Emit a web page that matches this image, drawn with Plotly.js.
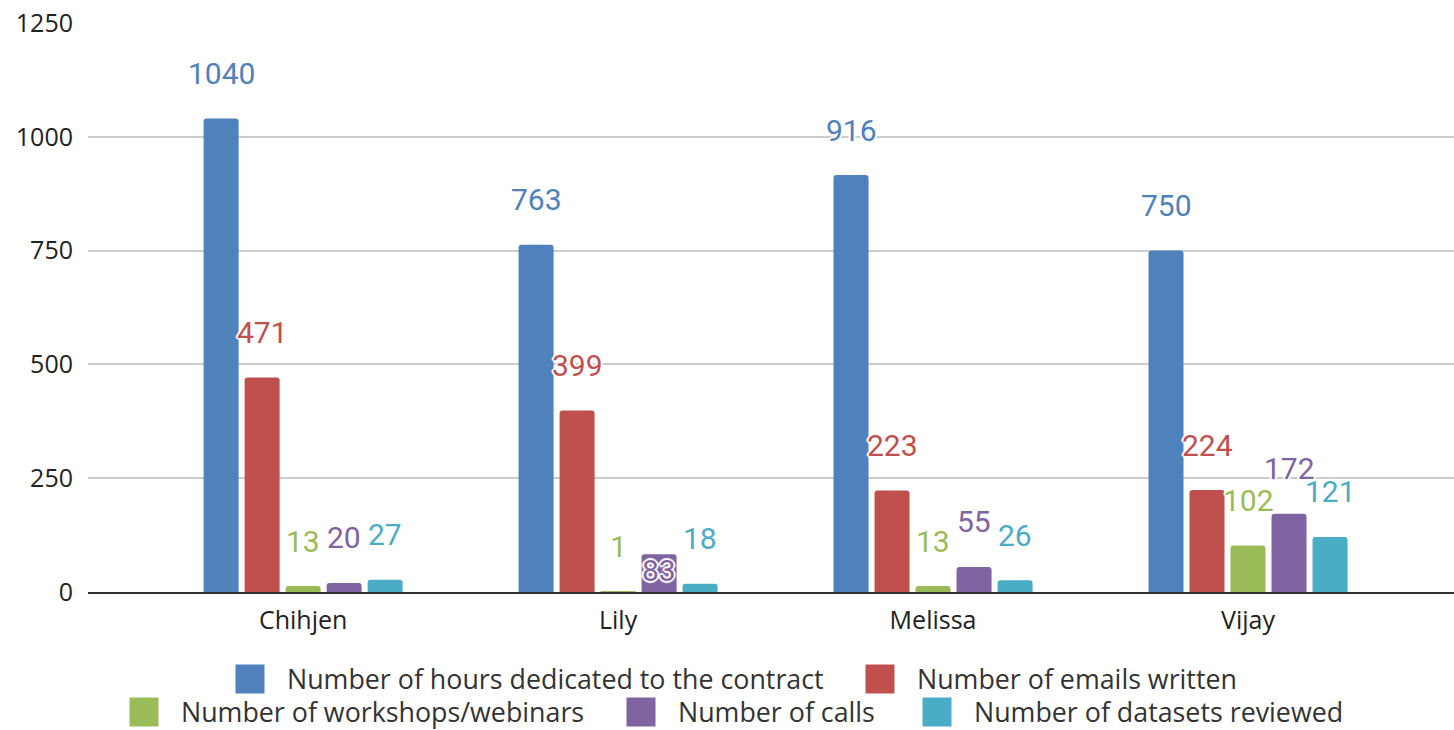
<!DOCTYPE html>
<html>
<head>
<meta charset="utf-8">
<script src="https://cdn.plot.ly/plotly-3.0.1.min.js"></script>
<style>
  html, body { margin: 0; padding: 0; background: #ffffff; }
  #chart { width: 1454px; height: 730px; }
</style>
</head>
<body>
<div id="chart"></div>
<script>
// ---- data ----
const categories = ["Chihjen", "Lily", "Melissa", "Vijay"];
const seriesNames = [
  "Number of hours dedicated to the contract",
  "Number of emails written",
  "Number of workshops/webinars",
  "Number of calls",
  "Number of datasets reviewed"
];
const hoursValues = [1040, 763, 916, 750];
const emailsValues = [471, 399, 223, 224];
const workshopsValues = [13, 1, 13, 102];
const callsValues = [20, 83, 55, 172];
const datasetsValues = [27, 18, 26, 121];
const yTickValues = [0, 250, 500, 750, 1000, 1250];

// ---- styling ----
const seriesValues = [hoursValues, emailsValues, workshopsValues, callsValues, datasetsValues];
const colors = ["#4F81BD", "#C0504D", "#9BBB59", "#8064A2", "#4BACC6"];
// legend entry placement (container pixels): swatch centre x, row centre y
const legendSwatchX = [250, 880, 144, 641, 937];
const legendRowY = [679, 679, 712, 712, 712];
const legendItemWidth = 64;
const swatchSize = 29;
const bargap = 0.349;
const labelShift = 45;
const labelShiftOverride = { "1|3": -16 }; // category index | series index
const halo = "2px 0px 1px #fff, -2px 0px 1px #fff, 0px 2px 1px #fff, 0px -2px 1px #fff, 1px 1px 1px #fff, -1px -1px 1px #fff, 1px -1px 1px #fff, -1px 1px 1px #fff";

const W = 1454, H = 730;
const M = { l: 88, r: 0, t: 23, b: 138 };
const plotW = W - M.l - M.r, plotH = H - M.t - M.b;
const legendIds = seriesNames.map((_, k) => (k === 0 ? "legend" : "legend" + (k + 1)));

const traces = seriesValues.map((vals, k) => ({
  type: "bar",
  name: seriesNames[k],
  x: categories,
  y: vals,
  marker: { color: colors[k], line: { width: 0 } },
  legend: legendIds[k],
  hoverinfo: "x+y+name"
}));

const nSeries = seriesValues.length;
const slot = (1 - bargap) / nSeries;
const annotations = [];
seriesValues.forEach((vals, k) => {
  vals.forEach((v, i) => {
    const key = i + "|" + k;
    annotations.push({
      xref: "x", yref: "y",
      x: i + (k - (nSeries - 1) / 2) * slot,
      y: v,
      text: String(v),
      showarrow: false,
      xanchor: "center", yanchor: "middle",
      yshift: key in labelShiftOverride ? labelShiftOverride[key] : labelShift,
      font: { family: "Roboto, sans-serif", size: 30, color: colors[k], shadow: halo }
    });
  });
});

// enlarged legend swatches drawn behind the legend symbols
const shapes = legendIds.map((_, k) => {
  const cx = legendSwatchX[k], cy = legendRowY[k], h = swatchSize / 2;
  return {
    type: "rect", xref: "paper", yref: "paper", layer: "below",
    x0: (cx - h - M.l) / plotW, x1: (cx + h - M.l) / plotW,
    y0: (H - M.b - (cy + h)) / plotH, y1: (H - M.b - (cy - h)) / plotH,
    fillcolor: colors[k], line: { width: 0 }
  };
});

const legendFont = { family: "Open Sans, sans-serif", size: 26.8, color: "#333333" };

const layout = {
  width: W, height: H,
  margin: M,
  paper_bgcolor: "#ffffff", plot_bgcolor: "#ffffff",
  barmode: "group",
  bargap: bargap,
  bargroupgap: 0.146,
  barcornerradius: 3,
  showlegend: true,
  xaxis: {
    type: "category",
    range: [-0.683, 3.654],
    showgrid: false,
    showline: true, linecolor: "#333333", linewidth: 2,
    ticks: "", ticklabelstandoff: 5,
    tickfont: { family: "Open Sans, sans-serif", size: 25, color: "#222222" },
    automargin: false,
    fixedrange: true
  },
  yaxis: {
    range: [0, 1250],
    tickvals: yTickValues,
    ticktext: yTickValues.map(String),
    showgrid: true, gridcolor: "#cccccc", gridwidth: 1.5,
    zeroline: false, showline: false,
    ticks: "", ticklabelstandoff: 14,
    tickfont: { family: "Open Sans, sans-serif", size: 25, color: "#222222" },
    automargin: false,
    fixedrange: true
  },
  shapes: shapes,
  annotations: annotations
};

legendIds.forEach((id, k) => {
  layout[id] = {
    orientation: "h", xref: "container", yref: "container",
    x: (legendSwatchX[k] - (legendItemWidth / 2 + 5)) / W, xanchor: "left",
    y: 1 - legendRowY[k] / H, yanchor: "middle",
    itemwidth: legendItemWidth,
    font: legendFont,
    itemclick: false, itemdoubleclick: false,
    bgcolor: "rgba(0,0,0,0)", borderwidth: 0
  };
});

Plotly.newPlot("chart", traces, layout, { displayModeBar: false, responsive: false });
</script>
</body>
</html>
